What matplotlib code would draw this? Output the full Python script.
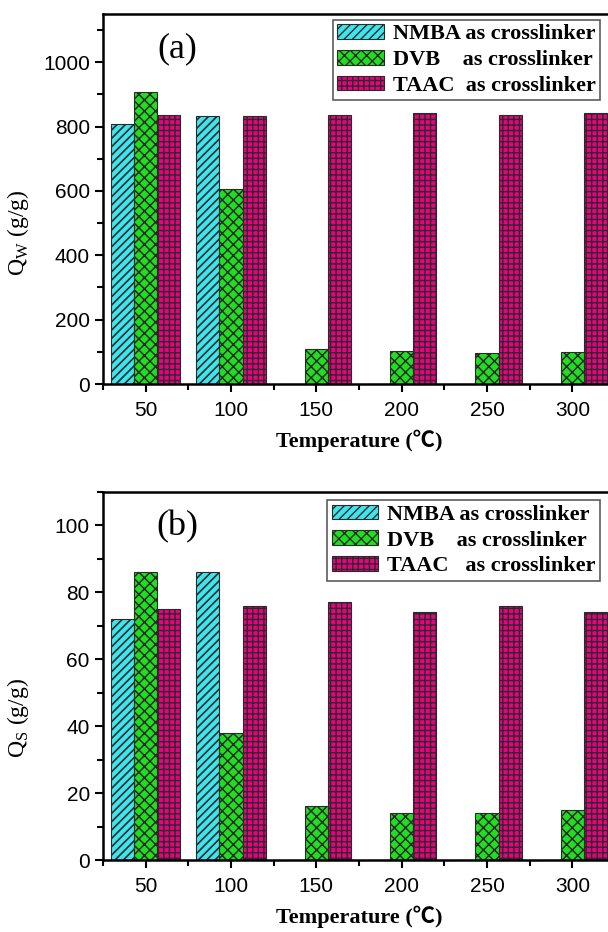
import numpy as np
import matplotlib.pyplot as plt
from matplotlib.ticker import MultipleLocator, FixedLocator

temps = [50, 100, 150, 200, 250, 300]
# swelling in water, Qw (g/g)
qw_nmba = [808, 834, 0, 0, 0, 0]
qw_dvb = [907, 606, 108, 103, 97, 100]
qw_taac = [836, 833, 837, 842, 837, 842]
# swelling in saline, Qs (g/g)
qs_nmba = [72, 86, 0, 0, 0, 0]
qs_dvb = [86, 38, 16, 14, 14, 15]
qs_taac = [75, 76, 77, 74, 76, 74]

series_names_a = ['NMBA as crosslinker', 'DVB    as crosslinker', 'TAAC  as crosslinker']
series_names_b = ['NMBA as crosslinker', 'DVB    as crosslinker', 'TAAC   as crosslinker']

colors = ['#3de6ee', '#1fe01f', '#ea0080']
hatches = ['////', 'xxx', '+++']
hatch_lw = [1.2, 1.1, 1.0]
edge = '#2a2a2a'

serif = ['Liberation Serif', 'Noto Sans CJK SC', 'DejaVu Serif']
sans = ['Liberation Sans', 'DejaVu Sans']

W, H = 608, 932
fig = plt.figure(figsize=(W / 100, H / 100), dpi=100)


def panel(rect, data, names, ymax, ymajor, yminor, ylab, tag, tag_y, lab_y, leg_anchor):
    x0, y0, x1, y1 = rect
    ax = fig.add_axes([x0 / W, 1 - y1 / H, (x1 - x0) / W, (y1 - y0) / H])
    x = np.array(temps, dtype=float)
    bw = 13.5
    for i, (vals, nm) in enumerate(zip(data, names)):
        plt.rcParams['hatch.linewidth'] = hatch_lw[i]
        v = np.array(vals, dtype=float)
        ax.bar(x + (i - 1) * bw, v, bw, color=colors[i], hatch=hatches[i],
               edgecolor=edge, linewidth=0.8, label=nm)
    ax.set_xlim(25, 325)
    ax.set_ylim(0, ymax)
    ax.xaxis.set_major_locator(FixedLocator(temps))
    ax.xaxis.set_minor_locator(FixedLocator([25, 75, 125, 175, 225, 275, 325]))
    ax.yaxis.set_major_locator(MultipleLocator(ymajor))
    ax.yaxis.set_minor_locator(MultipleLocator(yminor))
    ax.tick_params(axis='both', which='major', direction='out', length=6, width=1.5,
                   labelsize=15, top=False, right=False)
    ax.tick_params(axis='both', which='minor', direction='out', length=4, width=1.5,
                   top=False, right=False)
    ax.tick_params(axis='x', which='major', pad=6)
    for lab in ax.get_xticklabels() + ax.get_yticklabels():
        lab.set_family(sans)
    for s in ax.spines.values():
        s.set_linewidth(1.8)
    ax.set_xlabel('Temperature (\u2103)', family=serif, fontsize=16, fontweight='bold',
                  labelpad=7)
    ax.set_ylabel(ylab, family=serif, fontsize=17)
    ax.yaxis.set_label_coords(-0.14, lab_y)
    ax.text(0.145, tag_y, tag, transform=ax.transAxes, family=serif, fontsize=26,
            ha='center', va='center')
    leg = ax.legend(loc='upper right', bbox_to_anchor=leg_anchor, prop={'family': serif,
                    'weight': 'bold', 'size': 16}, frameon=True, fancybox=False,
                    edgecolor='#333333', handlelength=2.1, handleheight=0.65,
                    borderpad=0.2, labelspacing=0.25, handletextpad=0.4,
                    borderaxespad=0.0)
    leg.get_frame().set_linewidth(1.2)
    return ax


panel((103, 14, 615, 384), [qw_nmba, qw_dvb, qw_taac], series_names_a,
      1150, 200, 100, r'Q$_\mathregular{W}$ (g/g)', '(a)', 0.905, 0.41,
      (0.971, 0.985))
panel((103, 492, 615, 860), [qs_nmba, qs_dvb, qs_taac], series_names_b,
      110, 20, 10, r'Q$_\mathregular{S}$ (g/g)', '(b)', 0.905, 0.386,
      (0.971, 0.978))

fig.savefig('out.png', dpi=100)
